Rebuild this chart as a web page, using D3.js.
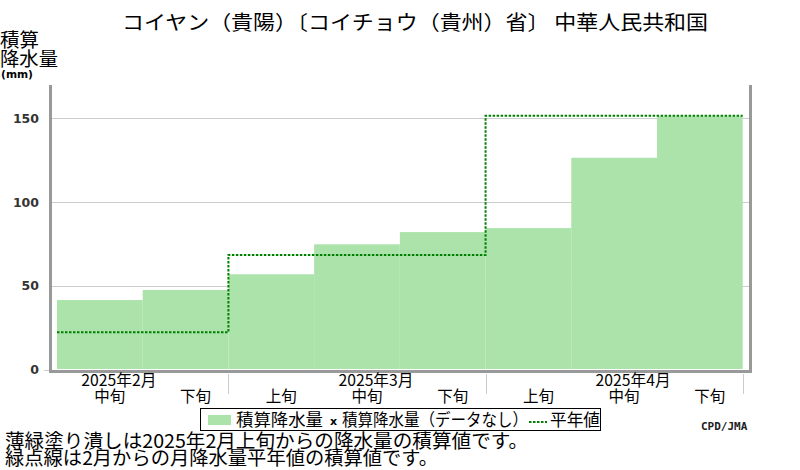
<!DOCTYPE html>
<html><head><meta charset="utf-8">
<script src="https://cdn.jsdelivr.net/npm/d3@7/dist/d3.min.js"></script>
<style>html,body{margin:0;padding:0;background:#fff;}svg{display:block;}</style>
</head><body>
<script>
const titleText = "コイヤン（貴陽）〔コイチョウ（貴州）省〕 中華人民共和国";
const dekadLabels = ["中旬","下旬","上旬","中旬","下旬","上旬","中旬","下旬"];
const monthLabels = ["2025年2月","2025年3月","2025年4月"];
const monthLabelDekad = [0, 3, 6];
const monthEnds = [2, 5, 8];
const accumPrecip = [41.5, 47.5, 56.9, 74.8, 82.1, 84.5, 126.5, 151.3];
const normalAccum = [22.3, 22.3, 68.4, 68.4, 68.4, 151.6, 151.6, 151.6];
const yTicks = [0, 50, 100, 150];
const legendLabels = ["積算降水量", "積算降水量（データなし）", "平年値"];
const notes = ["薄緑塗り潰しは2025年2月上旬からの降水量の積算値です。", "緑点線は2月からの月降水量平年値の積算値です。"];

const W = 800, H = 470;
const JP = "'Noto Sans CJK JP', 'Noto Sans', sans-serif";
const barColor = "#abe3ab";
const svg = d3.select("body").append("svg").attr("width", W).attr("height", H);

const x = d3.scaleLinear().domain([0, 8]).range([57, 742.7]);
const y = d3.scaleLinear().domain([0, 170]).range([369.5, 85]);

// title
svg.append("text").attr("x", 122).attr("y", 30).attr("font-family", JP).attr("font-size", 20)
  .attr("textLength", 586).attr("lengthAdjust", "spacingAndGlyphs").text(titleText);

// y-axis title
svg.append("text").attr("x", 0).attr("y", 47).attr("font-family", JP).attr("font-size", 19).attr("textLength", 39).attr("lengthAdjust","spacingAndGlyphs").text("積算");
svg.append("text").attr("x", 0).attr("y", 66).attr("font-family", JP).attr("font-size", 19).attr("textLength", 58).attr("lengthAdjust","spacingAndGlyphs").text("降水量");
svg.append("text").attr("x", 1).attr("y", 78).attr("font-family", "'DejaVu Sans', sans-serif").attr("font-weight", "bold").attr("font-size", 11).attr("textLength", 32).attr("lengthAdjust","spacingAndGlyphs").text("(mm)");

// gridlines
svg.append("g").selectAll("line").data(yTicks.filter(d => d > 0)).join("line")
  .attr("x1", 52).attr("x2", 749).attr("y1", d => Math.round(y(d)) + 0.5).attr("y2", d => Math.round(y(d)) + 0.5)
  .attr("stroke", "#cccccc").attr("stroke-width", 1);
svg.append("line").attr("x1", 44).attr("x2", 49).attr("y1", 370.5).attr("y2", 370.5).attr("stroke", "#cccccc");

// y tick labels
svg.append("g").selectAll("text").data(yTicks).join("text")
  .attr("x", 39).attr("y", d => y(d) + 4.5).attr("text-anchor", "end")
  .attr("font-family", "'DejaVu Sans', sans-serif").attr("font-weight", "bold").attr("font-size", 12.5)
  .attr("fill", "#333").text(d => d);

// bars
svg.append("g").selectAll("rect").data(accumPrecip).join("rect")
  .attr("x", (d, i) => x(i)).attr("width", (d, i) => x(i + 1) - x(i))
  .attr("y", d => y(d)).attr("height", d => y(0) - y(d) - 0.5)
  .attr("fill", barColor);

// normal dotted step line
const pts = normalAccum.map((v, i) => [i, v]).concat([[8, normalAccum[7]]]);
svg.append("path").attr("d", d3.line().x(d => x(d[0])).y(d => y(d[1])).curve(d3.curveStepAfter)(pts))
  .attr("fill", "none").attr("stroke", "#008000").attr("stroke-width", 2).attr("stroke-dasharray", "2.5,1.5");

// frame
const frame = svg.append("g").attr("stroke", "#999999").attr("stroke-width", 3);
frame.append("line").attr("x1", 50.5).attr("x2", 50.5).attr("y1", 85).attr("y2", 373);
frame.append("line").attr("x1", 49).attr("x2", 752).attr("y1", 371.5).attr("y2", 371.5);
frame.append("line").attr("x1", 750.5).attr("x2", 750.5).attr("y1", 85).attr("y2", 373);

// month separators
svg.append("g").selectAll("line").data(monthEnds).join("line")
  .attr("x1", d => Math.round(x(d)) + 0.5).attr("x2", d => Math.round(x(d)) + 0.5)
  .attr("y1", 374).attr("y2", 394).attr("stroke", "#cccccc");

// month labels
svg.append("g").selectAll("text").data(monthLabels).join("text")
  .attr("x", (d, i) => (x(monthLabelDekad[i]) + x(monthLabelDekad[i] + 1)) / 2 + 19).attr("y", 386).attr("text-anchor", "middle")
  .attr("font-family", JP).attr("font-size", 15.5).attr("textLength", 75).attr("lengthAdjust","spacingAndGlyphs").text(d => d);
// dekad labels
svg.append("g").selectAll("text").data(dekadLabels).join("text")
  .attr("x", (d, i) => (x(i) + x(i + 1)) / 2 + 10).attr("y", 402).attr("text-anchor", "middle")
  .attr("font-family", JP).attr("font-size", 15.5).text(d => d);

// legend
const lg = svg.append("g");
lg.append("rect").attr("x", 200.5).attr("y", 408.5).attr("width", 400).attr("height", 22).attr("fill", "#fff").attr("stroke", "#000");
lg.append("rect").attr("x", 208).attr("y", 415).attr("width", 23).attr("height", 10).attr("fill", barColor);
lg.append("text").attr("x", 236).attr("y", 426).attr("font-family", JP).attr("font-size", 17).attr("textLength", 87).attr("lengthAdjust","spacingAndGlyphs").text(legendLabels[0]);
lg.append("text").attr("x", 330).attr("y", 425).attr("font-family", "'DejaVu Sans', sans-serif").attr("font-weight", "bold").attr("font-size", 11).text("x");
lg.append("text").attr("x", 342).attr("y", 426).attr("font-family", JP).attr("font-size", 17).attr("textLength", 186).attr("lengthAdjust","spacingAndGlyphs").text(legendLabels[1]);
lg.append("line").attr("x1", 529).attr("x2", 547).attr("y1", 422).attr("y2", 422).attr("stroke", "#008000").attr("stroke-width", 2).attr("stroke-dasharray", "2.5,1.5");
lg.append("text").attr("x", 550).attr("y", 426).attr("font-family", JP).attr("font-size", 17).attr("textLength", 50).attr("lengthAdjust","spacingAndGlyphs").text(legendLabels[2]);

// credit
svg.append("text").attr("x", 701).attr("y", 430).attr("font-family", "'DejaVu Sans Mono', monospace").attr("font-weight", "bold").attr("font-size", 11).attr("fill", "#222").text("CPD/JMA");

// notes
svg.append("text").attr("x", 5).attr("y", 448).attr("font-family", JP).attr("font-size", 19).attr("textLength", 523).attr("lengthAdjust","spacingAndGlyphs").text(notes[0]);
svg.append("text").attr("x", 5).attr("y", 465).attr("font-family", JP).attr("font-size", 19).attr("textLength", 433).attr("lengthAdjust","spacingAndGlyphs").text(notes[1]);
</script>
</body></html>
